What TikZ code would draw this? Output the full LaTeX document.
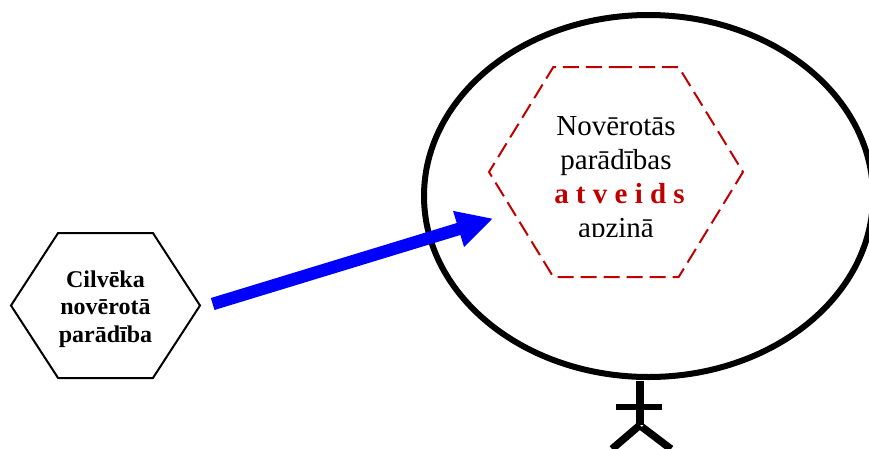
\documentclass[tikz,border=0pt]{standalone}
\usepackage{fontspec}
\setmainfont{Liberation Serif}
\usepackage{xcolor}
\usetikzlibrary{shapes.geometric, shapes.symbols, arrows.meta}
\definecolor{seenred}{RGB}{192,0,0}

\begin{document}
\begin{tikzpicture}[
    x=1pt, y=-1pt,
    humanbox/.style={signal, signal to=east and west, signal pointer angle=114, draw=black, line width=2pt, minimum width=189pt, minimum height=145pt, inner sep=0pt, align=center, font=\fontsize{24}{27.5}\selectfont\bfseries},
    seenbox/.style={signal, signal to=east and west, signal pointer angle=117, draw=seenred, line width=2pt, dash pattern=on 16pt off 7pt, minimum width=254pt, minimum height=210pt, inner sep=0pt},
    seentext/.style={inner sep=0pt, align=center, font=\fontsize{29}{34}\selectfont},
    mind/.style={ellipse, draw=black, line width=6pt, minimum width=449pt, minimum height=362pt, inner sep=0pt},
    arrow/.style={-{Triangle[length=36pt, width=35pt]}, draw=blue, line width=12.5pt},
    figureline/.style={draw=black, line width=7.5pt}
]
\useasboundingbox (0,0) rectangle (869,448);

\begin{scope}
\clip (0,0) rectangle (869,448);

% Apzinas elipse
\node[mind] (mind) at (648.5,196) {};

% Sesstura kreisaja pusee
\node[humanbox] (human) at (105.5,305.5) {\rule{0pt}{24pt}Cilvēka \\ novērotā \\ parādība};

% Sesstura elipsee
\node[seenbox] (seen) at (616,172) {};
\begin{scope}
\clip (540,100) rectangle (700,236);
\node[seentext] (seenlabel) at (616,180.5) {Novērotās \\ parādības \\ \hspace*{7pt}\textcolor{seenred}{\textbf{a t v e i d s}} \\ apzinā};
\end{scope}

% Bulta
\coordinate (arrowtip) at (493,218.5);
\draw[arrow, shorten <=12pt] ([yshift=-2pt]human.east) -- (arrowtip);

% Cilveciņs
\coordinate (neck) at (640,381);
\coordinate (hip) at (640,425);
\draw[figureline] (neck) -- (hip);
\draw[figureline, line width=6pt] (616,407) -- (662,407);
\draw[figureline] (hip) -- (612,449);
\draw[figureline] (642,427) -- (671,449);
\end{scope}

\end{tikzpicture}
\end{document}
